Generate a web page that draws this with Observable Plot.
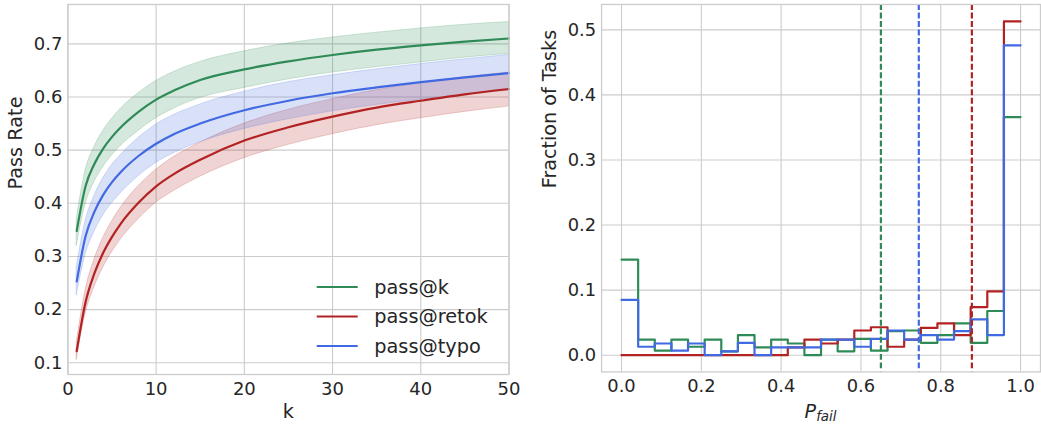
<!DOCTYPE html>
<html><head><meta charset="utf-8">
<script src="https://cdn.jsdelivr.net/npm/d3@7"></script>
<script src="https://cdn.jsdelivr.net/npm/@observablehq/plot@0.6"></script>
<style>
html,body{margin:0;padding:0;background:#fff;overflow:hidden;}
#wrap{position:relative;width:1041px;height:424px;overflow:hidden;font-family:"DejaVu Sans",sans-serif;}
#left,#right{position:absolute;top:0;}
#left{left:0;} #right{left:520px;}
</style></head><body>
<div id="wrap"><div id="left"></div><div id="right"></div></div>
<script>
// ---------- Left panel data: pass rate vs k ----------
const kValues = [1, 2, 3, 4, 5, 6, 8, 10, 12, 15, 20, 25, 30, 35, 40, 45, 50];
const passK      = [0.348, 0.432, 0.474, 0.503, 0.525, 0.543, 0.572, 0.595, 0.612, 0.632, 0.652, 0.667, 0.679, 0.689, 0.697, 0.704, 0.710];
const passKLo    = [0.320, 0.398, 0.440, 0.468, 0.490, 0.508, 0.536, 0.560, 0.578, 0.598, 0.617, 0.633, 0.646, 0.656, 0.665, 0.674, 0.681];
const passKHi    = [0.370, 0.462, 0.506, 0.536, 0.559, 0.578, 0.607, 0.630, 0.647, 0.666, 0.686, 0.701, 0.712, 0.721, 0.729, 0.736, 0.741];
const passRetok   = [0.122, 0.214, 0.268, 0.307, 0.337, 0.362, 0.401, 0.432, 0.455, 0.482, 0.518, 0.543, 0.563, 0.580, 0.593, 0.605, 0.615];
const passRetokLo = [0.106, 0.192, 0.242, 0.279, 0.308, 0.332, 0.370, 0.401, 0.423, 0.450, 0.485, 0.510, 0.530, 0.547, 0.560, 0.572, 0.582];
const passRetokHi = [0.138, 0.236, 0.294, 0.335, 0.366, 0.392, 0.432, 0.463, 0.487, 0.514, 0.550, 0.576, 0.596, 0.613, 0.626, 0.637, 0.646];
const passTypo   = [0.253, 0.338, 0.384, 0.416, 0.440, 0.459, 0.489, 0.512, 0.530, 0.550, 0.575, 0.593, 0.607, 0.618, 0.628, 0.637, 0.645];
const passTypoLo = [0.227, 0.303, 0.346, 0.377, 0.400, 0.419, 0.451, 0.476, 0.494, 0.515, 0.540, 0.558, 0.573, 0.585, 0.595, 0.604, 0.612];
const passTypoHi = [0.280, 0.367, 0.414, 0.447, 0.472, 0.491, 0.523, 0.548, 0.566, 0.586, 0.610, 0.628, 0.641, 0.652, 0.662, 0.671, 0.679];

const seriesNames = ["pass@k", "pass@retok", "pass@typo"];
const seriesColors = ["#2e8b57", "#b22222", "#4169e1"];

const leftXTicks = [0, 10, 20, 30, 40, 50];
const leftYTicks = [0.1, 0.2, 0.3, 0.4, 0.5, 0.6, 0.7];

// ---------- Right panel data: histogram of P_fail ----------
const nBins = 24;
const histPassK  = [0.147, 0.024, 0.007, 0.024, 0.013, 0.024, 0.006, 0.031, 0.012, 0.024, 0.018, 0.000, 0.024, 0.006, 0.025, 0.007, 0.037, 0.038, 0.019, 0.031, 0.049, 0.019, 0.068, 0.366];
const histRetok  = [0.000, 0.000, 0.000, 0.000, 0.000, 0.000, 0.000, 0.000, 0.000, 0.000, 0.012, 0.024, 0.018, 0.024, 0.038, 0.043, 0.013, 0.024, 0.042, 0.049, 0.031, 0.074, 0.098, 0.513];
const histTypo   = [0.085, 0.013, 0.018, 0.007, 0.018, 0.000, 0.006, 0.019, 0.000, 0.012, 0.012, 0.012, 0.024, 0.024, 0.013, 0.025, 0.038, 0.024, 0.031, 0.024, 0.037, 0.055, 0.031, 0.476];
const meanPfail  = [0.650, 0.878, 0.745]; // pass@k, pass@retok, pass@typo

const rightXTicks = [0, 0.2, 0.4, 0.6, 0.8, 1.0];
const rightYTicks = [0, 0.1, 0.2, 0.3, 0.4, 0.5];

// ---------- Build tables ----------
const curveRows = [];
[[passK, passKLo, passKHi], [passRetok, passRetokLo, passRetokHi], [passTypo, passTypoLo, passTypoHi]].forEach((s, si) => {
  kValues.forEach((k, i) => curveRows.push({k, y: s[0][i], lo: s[1][i], hi: s[2][i], series: seriesNames[si]}));
});
const binEdges = d3.range(nBins + 1).map(i => i / nBins);
const stepRows = [];
[histPassK, histRetok, histTypo].forEach((h, si) => {
  binEdges.forEach((e, i) => stepRows.push({x: e, y: h[Math.min(i, nBins - 1)], series: seriesNames[si]}));
});
const meanRows = meanPfail.map((m, i) => ({x: m, series: seriesNames[i]}));

const FONT = "DejaVu Sans";
const TXT = "#262626";
const GRID = "#cccccc";
const TICK_FS = 18;
const LABEL_FS = 19.3;
const color = {domain: seriesNames, range: seriesColors};

// ---------- Left plot ----------
const left = Plot.plot({
  width: 520, height: 424,
  marginLeft: 67.4, marginRight: 11.5, marginTop: 4, marginBottom: 50,
  x: {domain: [0, 50]},
  y: {domain: [0.078, 0.774]},
  color,
  style: {background: "white", fontFamily: FONT, fontSize: TICK_FS + "px", color: TXT, overflow: "visible"},
  marks: [
    Plot.gridX(leftXTicks, {stroke: GRID, strokeOpacity: 1, strokeWidth: 1.1}),
    Plot.gridY(leftYTicks, {stroke: GRID, strokeOpacity: 1, strokeWidth: 1.1}),
    Plot.areaY(curveRows, {x: "k", y1: "lo", y2: "hi", fill: "series", fillOpacity: 0.2, stroke: "series", strokeOpacity: 0.2, strokeWidth: 1, curve: "monotone-x"}),
    Plot.line(curveRows, {x: "k", y: "y", stroke: "series", strokeWidth: 2.2, curve: "monotone-x"}),
    Plot.frame({stroke: GRID, strokeWidth: 1.3}),
    Plot.axisX({ticks: leftXTicks, tickSize: 0, tickPadding: 7.5, fontSize: TICK_FS, label: null}),
    Plot.axisY({ticks: leftYTicks, tickSize: 0, tickPadding: 5.5, fontSize: TICK_FS, tickFormat: ".1f", label: null}),
    Plot.text(["k"], {text: d => d, frameAnchor: "bottom", dy: 37, fontSize: LABEL_FS, lineAnchor: "middle", fill: TXT}),
    Plot.text(["Pass Rate"], {text: d => d, frameAnchor: "left", dx: -52.4, rotate: -90, fontSize: LABEL_FS, fill: TXT})
  ]
});
document.getElementById("left").appendChild(left);

// legend inside left plot
{
  const svg = d3.select(left);
  const g = svg.append("g").attr("font-family", FONT).attr("font-size", LABEL_FS).attr("fill", TXT).attr("text-anchor", "start");
  const rowY = [287, 316.5, 346];
  seriesNames.forEach((name, i) => {
    g.append("line").attr("x1", 316.7).attr("x2", 357.7).attr("y1", rowY[i]).attr("y2", rowY[i])
      .attr("stroke", seriesColors[i]).attr("stroke-width", 2.2);
    g.append("text").attr("x", 374.3).attr("y", rowY[i] + 6.5).attr("text-anchor", "start").text(name);
  });
}

// ---------- Right plot ----------
const right = Plot.plot({
  width: 525, height: 424,
  marginLeft: 81.7, marginRight: 1, marginTop: 4, marginBottom: 49.7,
  x: {domain: [-0.05, 1.05]},
  y: {domain: [-0.0257, 0.539]},
  color,
  style: {background: "white", fontFamily: FONT, fontSize: TICK_FS + "px", color: TXT, overflow: "visible"},
  marks: [
    Plot.gridX(rightXTicks, {stroke: GRID, strokeOpacity: 1, strokeWidth: 1.1}),
    Plot.gridY(rightYTicks, {stroke: GRID, strokeOpacity: 1, strokeWidth: 1.1}),
    Plot.line(stepRows, {x: "x", y: "y", stroke: "series", strokeWidth: 2.2, curve: "step-after"}),
    Plot.ruleX(meanRows, {x: "x", stroke: "series", strokeWidth: 2.2, strokeDasharray: "6,2.6"}),
    Plot.frame({stroke: GRID, strokeWidth: 1.3}),
    Plot.axisX({ticks: rightXTicks, tickSize: 0, tickPadding: 7.5, fontSize: TICK_FS, tickFormat: ".1f", label: null}),
    Plot.axisY({ticks: rightYTicks, tickSize: 0, tickPadding: 5.5, fontSize: TICK_FS, tickFormat: ".1f", label: null}),
    Plot.text(["Fraction of Tasks"], {text: d => d, frameAnchor: "left", dx: -51.7, rotate: -90, fontSize: LABEL_FS, fill: TXT})
  ]
});
document.getElementById("right").appendChild(right);
{
  const svg = d3.select(right);
  const t = svg.append("text").attr("x", (81.7 + 524) / 2).attr("y", 421.5)
    .attr("text-anchor", "middle").attr("font-family", FONT).attr("fill", TXT).attr("font-size", LABEL_FS);
  t.append("tspan").attr("font-style", "italic").text("P");
  t.append("tspan").attr("font-style", "italic").attr("font-size", 13.5).attr("dy", 3).text("fail");
}
</script></body></html>
